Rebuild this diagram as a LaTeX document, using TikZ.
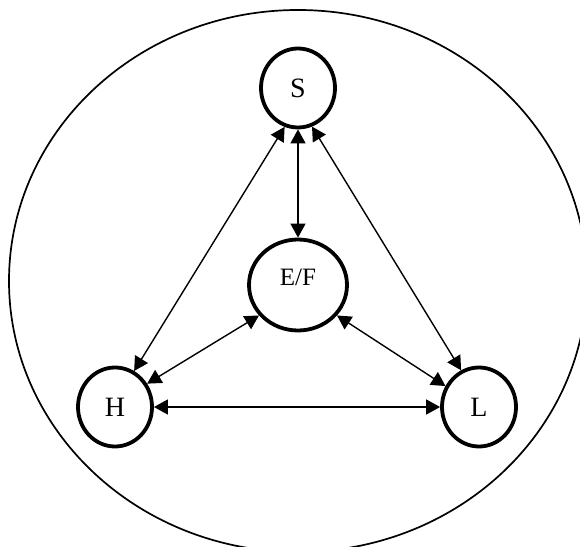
\documentclass[tikz,border=0pt]{standalone}
\usepackage{fontspec}
\setmainfont{Liberation Serif}
\usetikzlibrary{shapes.geometric, arrows.meta}

\begin{document}
\begin{tikzpicture}[
  x=1pt, y=1pt,
  state/.style={ellipse, draw, line width=3.8pt, minimum width=74pt, minimum height=79pt, inner sep=0pt, font=\fontsize{28}{30}\selectfont},
  arrow/.style={{Triangle[length=14pt,width=15pt]}-{Triangle[length=14pt,width=15pt]}, line width=1.4pt}
]

\useasboundingbox (0,0) rectangle (580,546);
\clip (0,0) rectangle (580,546);

% outer boundary
\draw [line width=1.7pt] (298,265) ellipse [x radius=289, y radius=271];

\node (S) [state] at (298,458) {S};
\node (EF) [state, minimum width=98pt, minimum height=91pt, font=\fontsize{25}{28}\selectfont, text height=17pt, text depth=15pt] at (298,261) {E/F};
\node (H) [state] at (115,139) {H};
\node (L) [state] at (479,139) {L};

\draw [arrow] (S) -- (EF);
\draw [arrow] (S.251) -- (H.62);
\draw [arrow] (S.290) -- (L.116);
\draw [arrow] (EF.218) -- (H.36);
\draw [arrow] (EF.322) -- (L.148);
\draw [arrow] (H) -- (L);

\end{tikzpicture}
\end{document}
